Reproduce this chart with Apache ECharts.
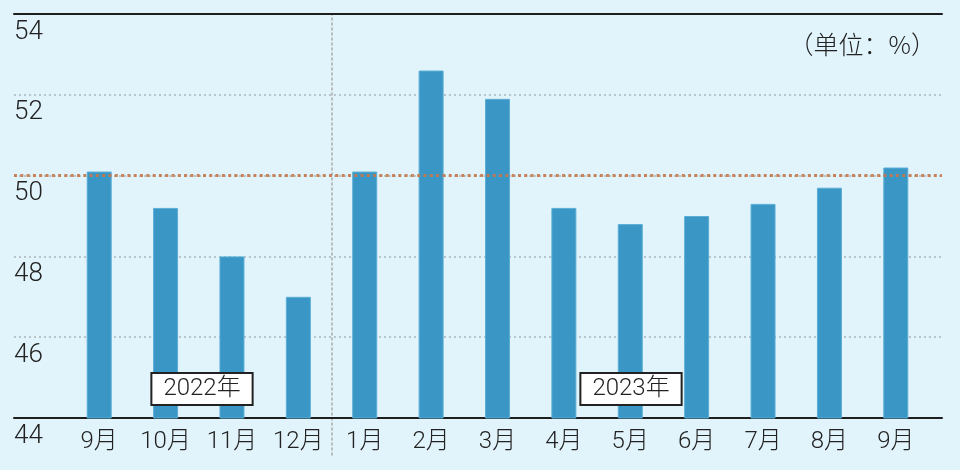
<!DOCTYPE html>
<html><head><meta charset="utf-8">
<script src="https://cdn.jsdelivr.net/npm/echarts@6/dist/echarts.min.js"></script>
<style>html,body{margin:0;padding:0;background:#e2f4fb}#c{width:960px;height:470px}</style>
</head><body><div id="c"></div>
<script>
var categories = ['9月','10月','11月','12月','1月','2月','3月','4月','5月','6月','7月','8月','9月'];
var pmiValues = [50.1, 49.2, 48.0, 47.0, 50.1, 52.6, 51.9, 49.2, 48.8, 49.0, 49.3, 49.7, 50.2];
var yTicks = [44, 46, 48, 50, 52, 54];
var threshold = 50;
var yearLabels = ['2022年', '2023年'];
var yearStartIndex = 4; // first category of 2023
var unitText = '（单位：%）';

var W = 960, H = 470;
var FONT = "'Roboto','Noto Sans CJK SC',sans-serif";
var chart = echarts.init(document.getElementById('c'), null, {renderer:'canvas'});
var yMin = yTicks[0], yMax = yTicks[yTicks.length-1];
var barLeft = 66, barRight = 31;
var band = (W - barLeft - barRight) / categories.length;
var sepX = barLeft + band * yearStartIndex;
chart.setOption({
  backgroundColor: '#e2f4fb',
  animation: false,
  grid: [
    {left: 14, right: 18, top: 14, bottom: 52},
    {left: barLeft, right: barRight, top: 14, bottom: 52},
    {left: sepX, width: 1, top: 14, bottom: 15}
  ],
  xAxis: [
    {type:'value', gridIndex:0, min:0, max:1, position:'bottom',
      axisLine:{show:true, onZero:false, lineStyle:{color:'#1e1e1e', width:2}},
      axisTick:{show:false}, axisLabel:{show:false}, splitLine:{show:false}},
    {type:'value', gridIndex:0, min:0, max:1, position:'top',
      axisLine:{show:true, onZero:false, lineStyle:{color:'#1e1e1e', width:2}},
      axisTick:{show:false}, axisLabel:{show:false}, splitLine:{show:false}},
    {type:'category', gridIndex:1, data:categories, boundaryGap:true,
      axisLine:{show:false}, axisTick:{show:false}, splitLine:{show:false},
      axisLabel:{color:'#222', fontSize:24, margin:12, fontFamily:FONT, fontWeight:300, interval:0}},
    {type:'value', gridIndex:2, min:0, max:1, show:false}
  ],
  yAxis: [
    {type:'value', gridIndex:0, min:yMin, max:yMax, interval:2,
      axisLine:{show:false}, axisTick:{show:false},
      axisLabel:{inside:true, margin:0, align:'left', verticalAlign:'top', lineHeight:36,
        fontSize:26, color:'#222', fontFamily:FONT, fontWeight:300},
      splitLine:{show:true, lineStyle:{color:'#a9b4b8', width:1.5, type:[2,3]}}},
    {type:'value', gridIndex:1, min:yMin, max:yMax, interval:2, show:false,
      splitLine:{show:false}},
    {type:'value', gridIndex:2, min:0, max:1, position:'left',
      axisLine:{show:true, onZero:false, lineStyle:{color:'#aaaaaa', width:1.5, type:[2,3]}},
      axisTick:{show:false}, axisLabel:{show:false}, splitLine:{show:false}}
  ],
  series: [
    {type:'line', xAxisIndex:0, yAxisIndex:0, data:[], silent:true, z:6,
      markLine:{silent:true, symbol:'none', label:{show:false}, z:6,
        lineStyle:{color:'#c7784a', width:3, type:[3,3.3], opacity:0.9},
        data:[{yAxis:threshold}]}},
    {type:'bar', xAxisIndex:2, yAxisIndex:1, data:pmiValues, barWidth:25,
      itemStyle:{color:'#3996c5', borderColor:'#5aaed6', borderWidth:1}, z:3}
  ],
  graphic: [
    {type:'text', x:202, y:389, z:10, style:{text:yearLabels[0], font:'300 24px '+FONT, fill:'#222',
      align:'center', verticalAlign:'middle', backgroundColor:'#fff', borderColor:'#222', borderWidth:2, padding:[3,11]}},
    {type:'text', x:631, y:389, z:10, style:{text:yearLabels[1], font:'300 24px '+FONT, fill:'#222',
      align:'center', verticalAlign:'middle', backgroundColor:'#fff', borderColor:'#222', borderWidth:2, padding:[3,11]}},
    {type:'text', x:936, y:44, z:10, style:{text:unitText, font:"300 25px 'Noto Sans CJK SC',sans-serif", fill:'#222',
      align:'right', verticalAlign:'middle'}}
  ]
});
</script></body></html>
